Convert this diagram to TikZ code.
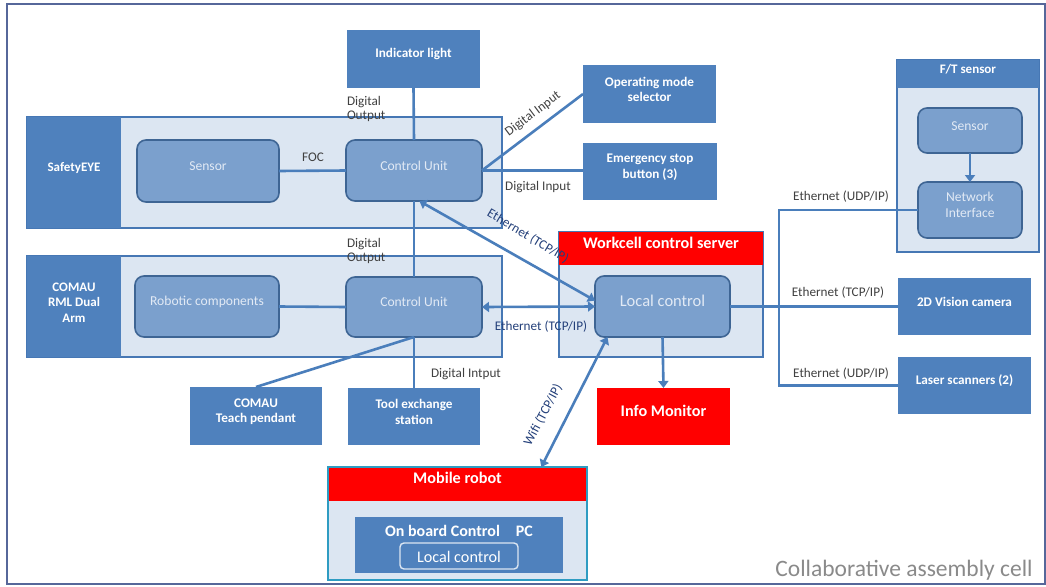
\documentclass[tikz,border=0pt]{standalone}
\usepackage{fontspec}
\setmainfont{Carlito}
\usetikzlibrary{fit,arrows.meta}
\definecolor{boxblue}{HTML}{4F81BD}
\definecolor{panel}{HTML}{DCE6F2}
\definecolor{unitfill}{HTML}{7BA0CD}
\definecolor{unitedge}{HTML}{3E6594}
\definecolor{wirecol}{HTML}{4A7EBB}
\definecolor{grpedge}{HTML}{4677B4}
\definecolor{alert}{HTML}{FF0000}
\definecolor{labelgray}{HTML}{404040}
\definecolor{netblue}{HTML}{24407A}
\definecolor{robotedge}{HTML}{2E9CC2}
\definecolor{framecol}{HTML}{56679A}
\definecolor{unittext}{HTML}{E2EAF5}
\definecolor{captiongray}{HTML}{8A8A8A}
\begin{document}
\begin{tikzpicture}[x=1pt,y=-1pt,
  every node/.style={inner sep=0pt, outer sep=0pt},
  blk/.style={fill=boxblue, text=white, font=\fontsize{13.2}{15.5}\selectfont\bfseries, align=center},
  unit/.style={fill=unitfill, draw=unitedge, line width=1.6pt, rounded corners=9pt, text=unittext, font=\fontsize{13.6}{16}\selectfont, align=center},
  panelbox/.style={fill=panel, draw=grpedge, line width=1.6pt},
  tagbox/.style={fill=boxblue, text=white, font=\fontsize{13}{15.5}\selectfont\bfseries, align=center},
  redbox/.style={fill=alert, text=white, font=\fontsize{16.2}{19}\selectfont\bfseries, align=center},
  wire/.style={draw=wirecol, line width=2.6pt},
  wireend/.style={-{Triangle[length=7pt,width=10pt]}},
  wireboth/.style={{Triangle[length=7pt,width=10pt]}-{Triangle[length=7pt,width=10pt]}},
  lbl/.style={text=labelgray, font=\fontsize{13.2}{14}\selectfont, align=left},
  netlbl/.style={text=netblue, font=\fontsize{13.2}{15}\selectfont},
]
\useasboundingbox (0,0) rectangle (1046,586);
\fill[white] (0,0) rectangle (1046,586);
\draw[framecol, line width=1.8pt] (7,4) rectangle (1045,584);

% SafetyEYE group
\node[panelbox, fit={(27,117)(502,228)}] (safety) {};
\node[tagbox, fit={(27,117)(121,228)}] (safetytag) {SafetyEYE};
\node[unit, fit={(137,140)(279,202)}] (sensorS) {Sensor};
\node[unit, fit={(346,140)(482,201)}] (cuS) {Control Unit};
\node[blk, fit={(347,30)(480,88)}] (ind) {Indicator light};
\node[blk, fit={(583,65)(716,123)}] (opmode) {Operating mode\\selector};
\node[blk, fit={(583,143)(717,200)}] (estop) {Emergency stop\\button (3)};

% COMAU group
\node[panelbox, fit={(27,256)(502,357)}] (comau) {};
\node[tagbox, fit={(27,256)(121,357)}] (comautag) {COMAU\\RML Dual\\Arm};
\node[unit, fit={(135,276)(279,337)}] (robcomp) {Robotic components};
\node[unit, fit={(346,277)(482,337)}] (cuC) {Control Unit};
\node[blk, fit={(190,387)(322,445)}] (pendant) {COMAU\\Teach pendant};
\node[blk, fit={(348,388)(480,445)}] (tool) {Tool exchange\\station};

% Workcell control server
\node[panelbox, fit={(559,232)(763,357)}] (server) {};
\node[redbox, fit={(559,232)(763,265)}] (serverhead) {Workcell control server};
\node[unit, fit={(595,276)(730,337)}, font=\fontsize{16.5}{19}\selectfont] (localctl) {Local control};
\node[redbox, fit={(597,388)(730,445)}] (info) {Info Monitor};

% Mobile robot
\node[fill=panel, fit={(328,467)(587,580)}] (mobile) {};
\node[redbox, fit={(328,467)(587,501)}] (mobilehead) {Mobile robot};
\draw[robotedge, line width=2.2pt] (mobile.north west) rectangle (mobile.south east);
\node[fill=boxblue, fit={(355,517)(563,573)}] (onboard) {};
\node[text=white, font=\fontsize{16}{19}\selectfont\bfseries] (onboardtxt) at (459,531) {On board Control\quad PC};
\node[draw=panel, line width=1.4pt, rounded corners=4pt, fit={(400,543)(518,569)}] (mlocal) {};
\node[text=white, font=\fontsize{16.2}{19}\selectfont] (mlocaltxt) at (459,557) {Local control};

% F/T sensor
\node[panelbox, fit={(897,60)(1039,252)}] (ft) {};
\node[tagbox, fit={(897,60)(1039,88)}] (fthead) {F/T sensor};
\node[unit, fit={(918,108)(1022,153)}] (ftsensor) {Sensor};
\node[unit, fit={(918,182)(1022,238)}] (netif) {Network\\Interface};
\node[blk, fit={(898,278)(1031,335)}] (vision) {2D Vision camera};
\node[blk, fit={(898,357)(1031,414)}] (laser) {Laser scanners (2)};

% connectors
\draw[wire] (ind.south) -- (cuS.north);
\draw[wire] (sensorS.east) -- (cuS.west);
\draw[wire] (cuS.east) -- (cuS.east -| estop.west);
\draw[wire] (cuS.east) -- (opmode.west);
\draw[wire] (cuS.south) -- (cuC.north);
\draw[wire] (robcomp.east) -- (cuC.west);
\draw[wire] (cuC.south) -- (tool.north);
\draw[wire] (pendant.north) -- (cuC.south);
\draw[wire, wireboth] (cuC.east) -- (localctl.west);
\draw[wire, wireboth] (cuS.-80) -- (localctl.175);
\draw[wire, wireboth] (localctl.-151) -- (mobile.34);
\draw[wire, wireend] (localctl.south) -- (info.north);
\draw[wire, wireend] (ftsensor.south) -- (netif.north);
\coordinate (busT) at (779,210);
\coordinate (busB) at (779,385.5);
\draw[wire] (localctl.east) -- (vision.west);
\draw[wire] (netif.west) -- (busT) -- (busB) -- (laser.west);

% connector labels
\node[lbl, anchor=north west] (do1) at (347,96) {Digital\\Output};
\node[lbl, anchor=north west] (do2) at (347,238) {Digital\\Output};
\node[lbl] (foc) at (313,157) {FOC};
\node[lbl] (di1) at (538,187) {Digital Input};
\node[lbl, rotate=37] (di2) at (533,114) {Digital Input};
\node[lbl] (di3) at (466,374) {Digital Intput};
\node[netlbl] (eth1) at (541,327) {Ethernet (TCP/IP)};
\node[netlbl, rotate=-31] (eth2) at (528,236) {Ethernet (TCP/IP)};
\node[netlbl, rotate=62] (wifi) at (543,415) {Wifi (TCP/IP)};
\node[lbl] (eth3) at (841,197) {Ethernet (UDP/IP)};
\node[lbl] (eth4) at (838,293) {Ethernet (TCP/IP)};
\node[lbl] (eth5) at (841,374) {Ethernet (UDP/IP)};

\node[text=captiongray, font=\fontsize{23.5}{27}\selectfont] (caption) at (904,570) {Collaborative assembly cell};
\end{tikzpicture}
\end{document}
